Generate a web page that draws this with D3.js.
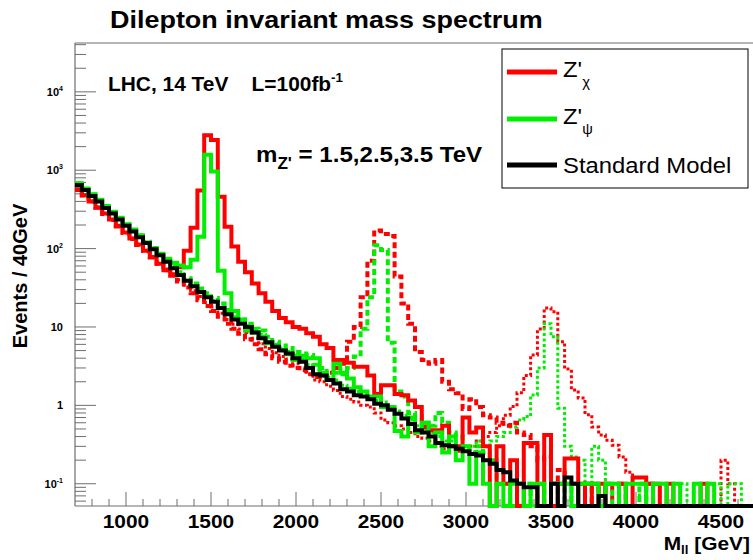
<!DOCTYPE html>
<html><head><meta charset="utf-8">
<script src="https://cdn.jsdelivr.net/npm/d3@7"></script>
<style>
body{margin:0;background:#fff}
svg{display:block}
text{font-family:"Liberation Sans",Arial,Helvetica,sans-serif;white-space:pre}
</style>
</head><body>
<svg id="c" width="753" height="560"></svg>
<script>
// ---- data (40 GeV bins starting at 700 GeV) ----
const binStart = 700;
const binWidth = 40;
const xTickLabels = [1000, 1500, 2000, 2500, 3000, 3500, 4000, 4500];
const yDecades = [-1, 0, 1, 2, 3, 4];

const smValues = [650,560,470,400,330,280,235,195,165,140,
 118,98,82,68,56,46,39,33,28,24,
 21,17.5,14.5,12.5,11,10,8.5,7.2,6.4,5.6,
 5.0,4.6,4.0,3.6,3.0,2.5,2.4,2.1,1.9,1.6,
 1.5,1.35,1.3,1.2,1.05,1.0,0.88,0.78,0.68,0.58,
 0.48,0.45,0.4,0.33,0.31,0.3,0.28,0.26,0.24,0.23,
 0.2,0.18,0.15,0.14,0.11,0.1,0.09,0.09,0,0,
 0.1,0,0.12,0.1,0,0,0,0.07,0,0,
 0,0,0,0,0,0,0,0,0,0,
 0,0,0,0,0,0,0,0,0,0];

const chi15 = [560,480,400,335,280,235,195,160,135,113,
 94,78,64,53,47,58,94,185,550,2800,
 2430,460,190,106,68,50,36,27,21,16,
 13,11.5,10,9.5,8.3,7.5,6,5.4,3.8,3.8,
 3.5,3.1,3.1,2.4,1.4,1.8,1.8,1.4,1.35,1.15,
 0.95,0.53,0.48,0.48,0.55,0.3,0.3,0.7,0.45,0.52,
 0.3,0,0.3,0.1,0.2,0,0.33,0.33,0,0.42,
 0,0.1,0.21,0.21,0,0.1,0,0.1,0,0,
 0.1,0,0.12,0.12,0.1,0.1,0,0.1,0,0,
 0,0,0.1,0,0,0,0,0,0,0];

const psi15 = [680,585,495,420,350,295,248,205,175,148,
 120,100,86,74,66,61,58,72,142,1570,
 960,52,27,16,12.5,9,8.5,7.5,6.2,5.9,
 5.1,4.5,3.8,4.3,4.0,4.0,2.6,2.1,3.4,2.6,
 2.2,1.7,1.5,1.3,1.3,0.95,0.95,0.47,0.4,0.7,
 0.45,0.6,0.3,0.45,0.25,0.4,0.2,0.3,0.1,0.25,
 0.1,0,0.1,0,0.1,0.1,0,0.1,0.1,0,
 0.1,0.1,0.1,0,0.1,0.1,0.1,0,0.1,0.1,
 0,0.1,0.1,0.1,0,0.1,0.1,0,0.1,0,
 0,0.1,0,0.1,0,0,0,0,0,0];

const chi25 = [565,475,398,332,276,232,192,158,133,111,
 93,77,64,53,45,38,32,27,22,18.5,
 16,13.5,11,9.5,8.2,7,6,5.2,4.5,4,
 3.6,3.2,3.0,2.8,2.5,2.3,2.4,2.6,3.0,3.4,
 6.5,10,24,70,170,154,145,44,20,11,
 4.8,3.8,3.4,3.8,2.0,1.6,1.43,0.9,1.2,0.95,
 0.75,0.7,0.6,0.55,0.6,0.45,0.42,0.3,0.2,0.22,
 0.1,0.15,0.1,0.1,0.1,0,0.1,0,0.1,0,
 0.1,0,0,0,0.1,0,0,0,0,0,
 0,0,0,0,0,0,0,0,0,0];

const psi25 = [675,580,490,416,345,292,245,203,172,146,
 122,102,85,71,60,50,42,36,31,27,
 23.5,20,16.5,14,12.5,11,9.5,9,7.5,6.5,
 5.8,5.4,4.8,4.6,4.4,3.3,3.0,2.6,2.6,2.5,
 3.0,4.2,9.5,24,110,96,6.3,1.5,1.3,0.8,
 0.72,0.6,0.55,0.8,0.6,0.45,0.4,0.3,0.25,0.3,
 0.25,0.2,0.1,0.1,0,0.1,0.1,0,0.1,0,
 0.1,0,0.1,0,0,0.1,0,0,0.1,0,
 0,0,0,0.1,0,0,0,0,0,0,
 0,0,0,0,0,0,0,0,0,0];

const chi35 = [570,485,402,338,278,236,196,161,136,114,
 95,79,66,55,47,40,34,29,24.5,20.5,
 18,15,12.5,10.8,9.4,8.5,7.2,6.1,5.3,4.7,
 4.2,3.9,3.4,3.0,2.5,2.1,2.0,1.75,1.55,1.3,
 1.2,1.1,1.0,0.95,0.8,0.65,0.6,0.55,0.5,0.45,
 0.4,0.38,0.35,0.3,0.28,0.3,0.26,0.3,0.3,0.35,
 0.4,0.45,0.55,0.75,0.97,1.45,2.4,4.4,9.4,17.5,
 15.7,6.5,2.9,1.57,1.24,0.76,0.53,0.42,0.36,0.31,
 0.22,0.14,0.12,0.12,0.1,0.1,0,0.1,0.1,0,
 0,0,0,0.1,0,0.2,0.1,0,0,0];

const psi35 = [670,575,485,412,340,288,242,200,170,144,
 121,101,84,70,58,48,41,35,29.5,25,
 22,18.5,15.5,13.5,11.5,10.5,9.2,8,6.8,6.0,
 5.4,4.9,4.4,3.9,3.3,2.8,2.6,2.3,2.1,1.8,
 1.65,1.5,1.4,1.3,1.15,1.1,0.95,0.85,0.75,0.65,
 0.55,0.5,0.45,0.4,0.35,0.35,0.3,0.3,0.3,0.35,
 0.3,0.35,0.4,0.45,0.53,0.65,0.72,1.36,3.0,11,
 7.5,0.92,0.3,0.22,0.2,0.1,0.3,0.2,0.1,0.1,
 0.1,0.1,0.1,0,0.1,0.1,0,0.1,0,0.1,
 0,0,0.1,0,0.1,0,0.1,0.1,0,0];

// ---- layout ----
const svg = d3.select("#c");
const pL = 75, pR = 755, pT = 43, pB = 506;
const x = d3.scaleLinear().domain([700, 4700]).range([pL, pR]);
const y = d3.scaleLog().domain([0.052, 42000]).range([pB, pT]);
const axisCol = "#6e6e6e";

const series = [
  {v: chi35, color: "#ff0000", w: 3, dash: "3,2.5"},
  {v: psi35, color: "#00ee00", w: 3, dash: "3,2.5"},
  {v: chi25, color: "#ff0000", w: 4, dash: "6,3.5"},
  {v: psi25, color: "#00ee00", w: 4, dash: "6,3.5"},
  {v: chi15, color: "#ff0000", w: 4, dash: null},
  {v: psi15, color: "#00ee00", w: 4, dash: null},
  {v: smValues, color: "#000000", w: 4, dash: null}
];

svg.append("defs").append("clipPath").attr("id","clip")
  .append("rect").attr("x", pL).attr("y", pT).attr("width", pR-pL).attr("height", pB-pT+2.5);

function yv(v){ return v > 0 ? Math.min(pB, y(v)) : pB; }
function stepPath(vals){
  let d = "";
  vals.forEach((v,i)=>{
    const x0 = x(binStart + i*binWidth), x1 = x(binStart + (i+1)*binWidth);
    const yy = yv(v);
    d += (i===0 ? `M${x0},${yy}` : `V${yy}`) + `H${x1}`;
  });
  return d;
}

svg.append("line").attr("x1",pL).attr("x2",753).attr("y1",pT).attr("y2",pT).attr("stroke",axisCol).attr("stroke-width",1.2);
svg.append("line").attr("x1",pL).attr("x2",pL).attr("y1",pT).attr("y2",pB).attr("stroke",axisCol).attr("stroke-width",1.2);
svg.append("line").attr("x1",pL).attr("x2",753).attr("y1",pB).attr("y2",pB).attr("stroke",axisCol).attr("stroke-width",1.2);

const xMinor = d3.range(800, 4700, 100);
xMinor.forEach(t=>{
  const major = t % 500 === 0;
  svg.append("line").attr("x1",x(t)).attr("x2",x(t)).attr("y1",pB).attr("y2",pB-(major?14:7))
    .attr("stroke",axisCol).attr("stroke-width",1);
});
for (let e=-2; e<=4; e++){
  for (let m=1; m<=9; m++){
    const v = m*Math.pow(10,e);
    if (v < 0.052 || v > 42000) continue;
    const yy = y(v);
    svg.append("line").attr("x1",pL).attr("x2",pL+(m===1?21:11)).attr("y1",yy).attr("y2",yy)
      .attr("stroke",axisCol).attr("stroke-width",1);
  }
}

const g = svg.append("g").attr("clip-path","url(#clip)");
series.forEach(s=>{
  g.append("path").attr("d", stepPath(s.v)).attr("fill","none")
    .attr("stroke", s.color).attr("stroke-width", s.w)
    .attr("stroke-dasharray", s.dash).attr("stroke-linejoin","miter");
});

// helper: text anchored at (px,py) with horizontal stretch sx
function label(px, py, size, sx, anchor, bold){
  const gg = svg.append("g").attr("transform", `translate(${px},${py}) scale(${sx},1)`);
  return gg.append("text").attr("x",0).attr("y",0).attr("font-size",size)
    .attr("text-anchor",anchor||"start").attr("font-weight", bold ? "bold" : "normal");
}

xTickLabels.forEach(t=>{
  label(x(t), 528, 19, 1.1, "middle", true).text(t);
});
yDecades.forEach(e=>{
  const t = label(63, y(Math.pow(10,e))+4, 11, 1, "end", true);
  if (e===0) t.text("1");
  else if (e===1) t.text("10");
  else { t.append("tspan").text("10"); t.append("tspan").attr("dy",-5).attr("font-size",7).text(e); }
});

label(110, 28, 24.5, 1.1, "start", true).text("Dilepton invariant mass spectrum");
const lhc = label(108, 91, 20.5, 1.02, "start", true);
lhc.append("tspan").text("LHC, 14 TeV    L=100fb");
lhc.append("tspan").attr("dy",-9).attr("font-size",13).text("-1");
const mz = label(256, 162, 22.5, 1.07, "start", true);
mz.append("tspan").text("m");
mz.append("tspan").attr("dy",7).attr("font-size",16).text("Z'");
mz.append("tspan").attr("dy",-7).text(" = 1.5,2.5,3.5 TeV");

svg.append("text").attr("transform","translate(27,276) rotate(-90)").attr("text-anchor","middle")
  .attr("font-size",20).attr("font-weight","bold").text("Events / 40GeV");
const xt = label(750, 550, 19, 1.1, "end", true);
xt.append("tspan").text("M");
xt.append("tspan").attr("dy",4).attr("font-size",12).text("ll");
xt.append("tspan").attr("dy",-4).text(" [GeV]");

svg.append("rect").attr("x",502).attr("y",49).attr("width",246).attr("height",139)
  .attr("fill","#fff").attr("stroke","#000").attr("stroke-width",1);
const leg = [
  {c:"#ff0000", main:"Z'", sub:"\u03c7", y:72},
  {c:"#00ee00", main:"Z'", sub:"\u03c8", y:119},
  {c:"#000000", main:"Standard Model", sub:null, y:165}
];
leg.forEach(l=>{
  svg.append("line").attr("x1",507).attr("x2",557).attr("y1",l.y).attr("y2",l.y).attr("stroke",l.c).attr("stroke-width",5);
  const t = label(563, l.y+(l.sub?5:8), 22.5, 1.06, "start", false);
  t.append("tspan").text(l.main);
  if (l.sub) t.append("tspan").attr("dy",10).attr("font-size",14).text(l.sub);
});
</script>
</body></html>
